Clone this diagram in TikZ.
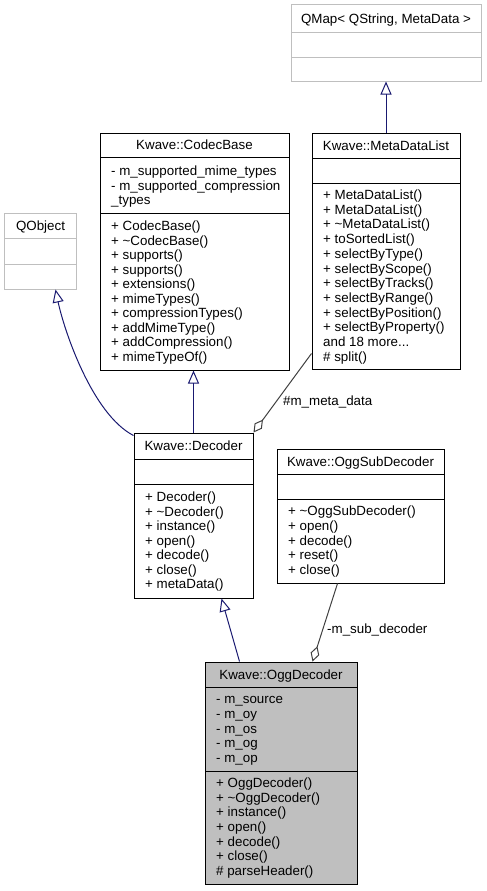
\documentclass[tikz,border=0pt]{standalone}
\usepackage{fontspec}
\setmainfont{Liberation Sans}
\usetikzlibrary{arrows.meta}
\definecolor{inhcol}{HTML}{191970}
\definecolor{aggcol}{HTML}{404040}
\definecolor{extcol}{HTML}{BFBFBF}
\definecolor{hlfill}{HTML}{BFBFBF}
\newcommand\umlfs{\fontsize{13.4}{14.6}\selectfont}
\newcommand\umlmore{...}
\newcommand\umllines[5]{\foreach \t [count=\i from 0] in {#5} {\node[mtext] (#1-\i) at (#2,{#3+\i*#4}) {\t};}}
\tikzset{
  classbox/.style={draw=black, line width=1bp, fill=white, inner sep=0pt},
  extbox/.style={draw=extcol, line width=1bp, fill=white, inner sep=0pt},
  hlbox/.style={draw=black, line width=1bp, fill=hlfill, inner sep=0pt},
  sepline/.style={draw=black, line width=1bp},
  extsep/.style={draw=extcol, line width=1bp},
  mtext/.style={anchor=base west, inner sep=0pt, font=\umlfs},
  ttl/.style={anchor=base, inner sep=0pt, font=\umlfs},
  lbl/.style={anchor=base west, inner sep=0pt, font=\umlfs},
  inh/.style={draw=inhcol, line width=1bp, -{Triangle[open, length=13bp, width=11bp]}},
  agg/.style={draw=aggcol, line width=1bp, {Diamond[open, length=16bp, width=9bp]}-}
}
\begin{document}
\begin{tikzpicture}[x=1bp,y=-1bp]
\useasboundingbox (0,0) rectangle (487,891);

% QMap
\node[extbox, minimum width=190bp, minimum height=76bp] (qmap) at (386,43) {};
\draw[extsep] (291,32) -- (481,32) (291,57) -- (481,57);
\node[ttl] (qmap-t) at (386,23) {QMap< QString, MetaData >};

% MetaDataList
\node[classbox, minimum width=148bp, minimum height=236bp] (mdl) at (386,251) {};
\draw[sepline] (312,158) -- (460,158) (312,183) -- (460,183);
\node[ttl] (mdl-t) at (386,150) {Kwave::MetaDataList};
\umllines{mdl-m}{323}{199.5}{14.7}{+ MetaDataList(), + MetaDataList(), + \textasciitilde MetaDataList(), + toSortedList(), + selectByType(), + selectByScope(), + selectByTracks(), + selectByRange(), + selectByPosition(), + selectByProperty(), and 18 more\umlmore, \# split()}

% CodecBase
\node[classbox, minimum width=189bp, minimum height=237bp] (cb) at (194.5,251.5) {};
\draw[sepline] (100,157) -- (289,157) (100,213) -- (289,213);
\node[ttl] (cb-t) at (194.5,149.5) {Kwave::CodecBase};
\umllines{cb-a}{111}{175.5}{14.5}{- m\_supported\_mime\_types, - m\_supported\_compression, \_types}
\umllines{cb-m}{111}{230.5}{14.5}{+ CodecBase(), + \textasciitilde CodecBase(), + supports(), + supports(), + extensions(), + mimeTypes(), + compressionTypes(), + addMimeType(), + addCompression(), + mimeTypeOf()}

% QObject
\node[extbox, minimum width=71bp, minimum height=76bp] (qobj) at (40.5,251) {};
\draw[extsep] (5,238) -- (76,238) (5,264) -- (76,264);
\node[ttl] (qobj-t) at (40.5,230) {QObject};

% Decoder
\node[classbox, minimum width=119bp, minimum height=165bp] (dec) at (193.5,515.5) {};
\draw[sepline] (134,459) -- (253,459) (134,484) -- (253,484);
\node[ttl] (dec-t) at (193.5,450.5) {Kwave::Decoder};
\umllines{dec-m}{145}{501.5}{14.5}{+ Decoder(), + \textasciitilde Decoder(), + instance(), + open(), + decode(), + close(), + metaData()}

% OggSubDecoder
\node[classbox, minimum width=167bp, minimum height=134bp] (osd) at (360.5,516) {};
\draw[sepline] (277,474) -- (444,474) (277,499) -- (444,499);
\node[ttl] (osd-t) at (360.5,466) {Kwave::OggSubDecoder};
\umllines{osd-m}{288}{515.5}{14.75}{+ \textasciitilde OggSubDecoder(), + open(), + decode(), + reset(), + close()}

% OggDecoder
\node[hlbox, minimum width=152bp, minimum height=222bp] (ogg) at (281,773) {};
\draw[sepline] (205,687) -- (357,687) (205,771) -- (357,771);
\node[ttl] (ogg-t) at (281,679) {Kwave::OggDecoder};
\umllines{ogg-a}{216}{703.5}{14.75}{- m\_source, - m\_oy, - m\_os, - m\_og, - m\_op}
\umllines{ogg-m}{216}{787.5}{14.67}{+ OggDecoder(), + \textasciitilde OggDecoder(), + instance(), + open(), + decode(), + close(), \# parseHeader()}

% connectors
\draw[inh] (mdl.north) -- (qmap.south);
\draw[inh] (dec.north) -- (dec.north |- cb.south);
\draw[inh] ([yshift=-3bp]dec.north west) .. controls (92,414) and (64,330) .. ([xshift=51bp]qobj.south west);
\draw[inh] ([xshift=35bp]ogg.north west) -- ([xshift=88bp]dec.south west);
\draw[agg] (dec.north east) -- ([yshift=16bp]mdl.south west);
\draw[agg] ([xshift=108bp]ogg.north west) -- ([xshift=61bp]osd.south west);

\node[lbl] (lmeta) at (283,405) {\#m\_meta\_data};
\node[lbl] (lsub) at (327,633) {-m\_sub\_decoder};
\end{tikzpicture}
\end{document}
